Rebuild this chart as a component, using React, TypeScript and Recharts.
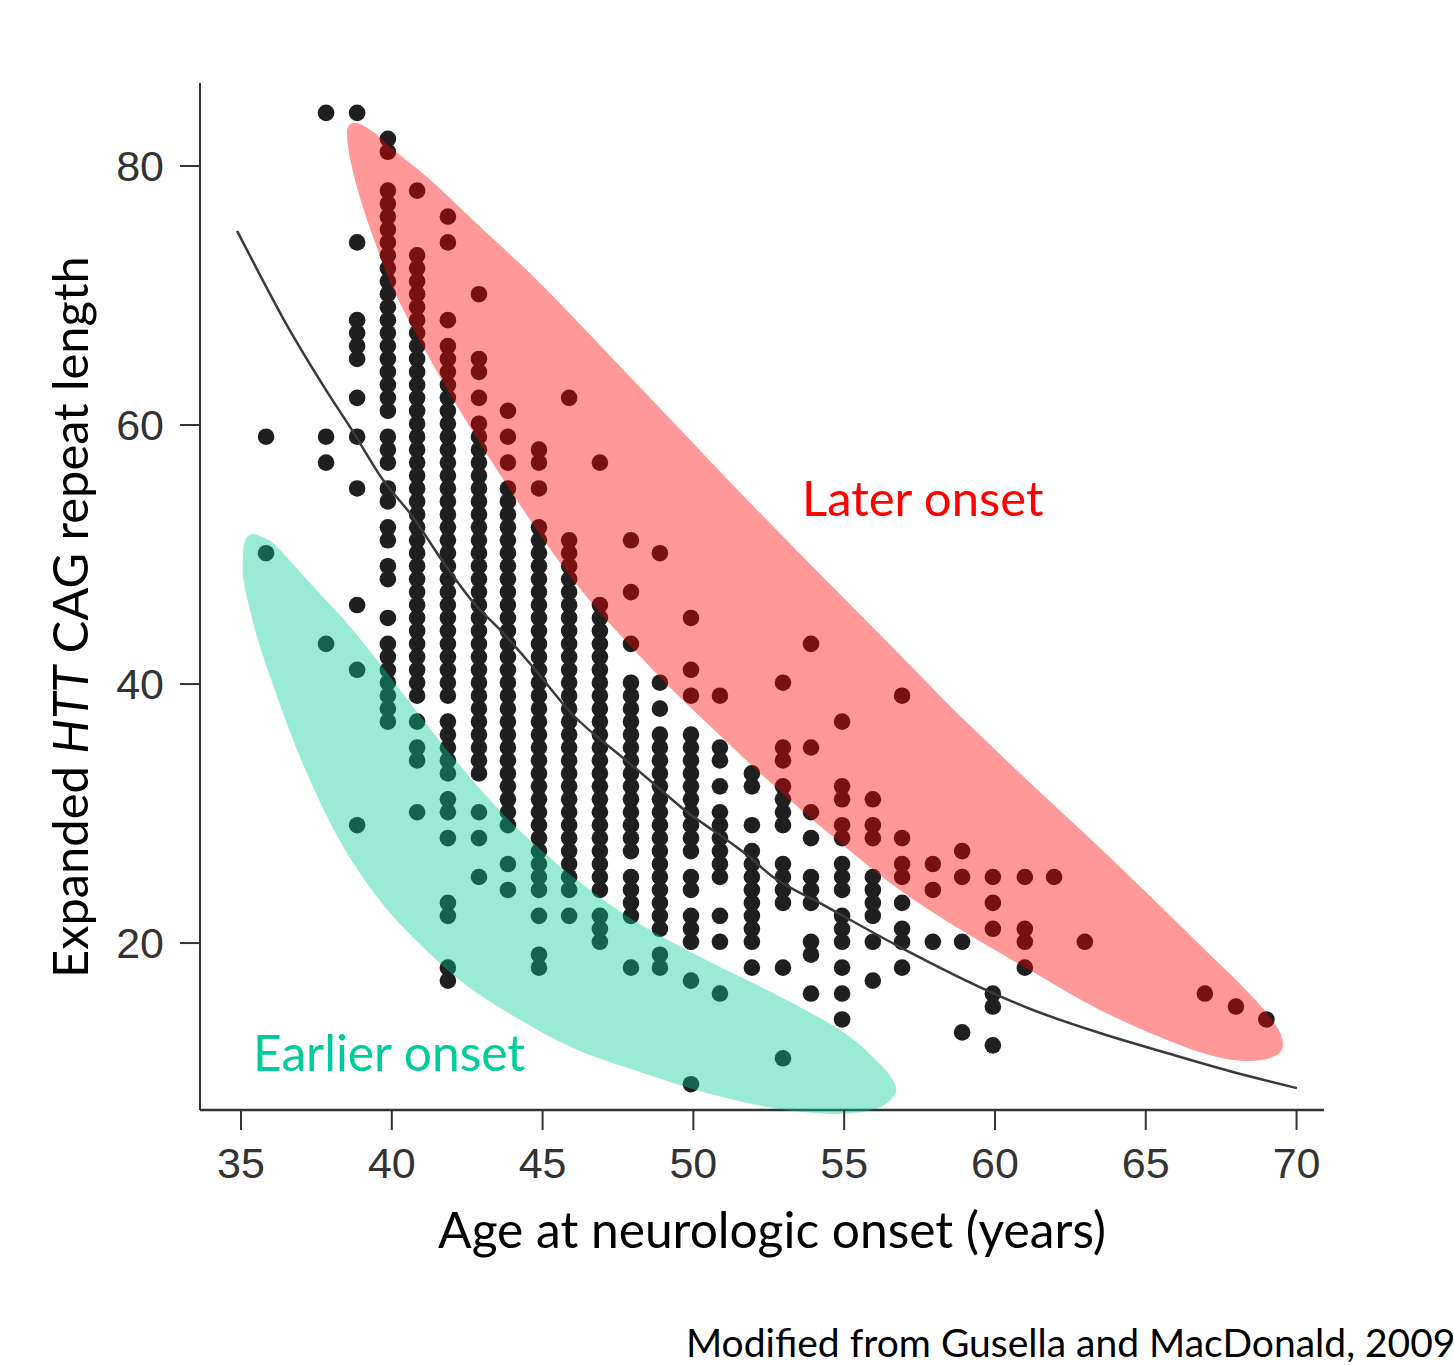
import { ScatterChart, Scatter, XAxis, YAxis, ReferenceLine } from "recharts";

const ageTicks = [35, 40, 45, 50, 55, 60, 65, 70];
const repeatTicks = [20, 40, 60, 80];

// age columns as they sit in the figure (slightly left of the ticks)
const onsetAges = [
  35.83, 37.82, 38.85, 39.87, 40.84, 41.86, 42.89, 43.85, 44.88, 45.88,
  46.9, 47.93, 48.89, 49.92, 50.88, 51.94, 52.97, 53.9, 54.93, 55.95,
  56.92, 57.94, 58.91, 59.93, 60.99, 61.96, 62.98, 66.96, 67.99, 69,
];

const repeatsByAge = [
  [59, 50],
  [84, 59, 57, 43],
  [84, 74, 68, 67, 66, 65, 62, 59, 55, 46, 41, 29],
  [82, 81, 78, 77, 76, 75, 74, 73, 72, 71, 70, 69, 68, 67, 66, 65, 64, 63, 62, 61, 59, 58, 57, 55, 54, 52, 51, 49, 48, 45, 43, 42, 41, 40, 39, 38, 37],
  [78, 73, 72, 71, 70, 69, 68, 67, 66, 65, 64, 63, 62, 61, 60, 59, 58, 57, 56, 55, 54, 53, 52, 51, 50, 49, 48, 47, 46, 45, 44, 43, 42, 41, 40, 39, 37, 35, 34, 30],
  [76, 74, 68, 66, 65, 64, 63, 62, 61, 60, 59, 58, 57, 56, 55, 54, 53, 52, 51, 50, 49, 48, 47, 46, 45, 44, 43, 42, 41, 40, 39, 37, 36, 35, 34, 33, 31, 30, 28, 23, 22, 18, 17],
  [70, 65, 64, 62, 60, 59, 58, 57, 56, 55, 54, 53, 52, 51, 50, 49, 48, 47, 46, 45, 44, 43, 42, 41, 40, 39, 38, 37, 36, 35, 34, 33, 30, 28, 25],
  [61, 59, 57, 55, 54, 53, 52, 51, 50, 49, 48, 47, 46, 45, 44, 43, 42, 41, 40, 39, 38, 37, 36, 35, 34, 33, 32, 31, 30, 29, 26, 24],
  [58, 57, 55, 52, 51, 50, 49, 48, 47, 46, 45, 44, 43, 42, 41, 40, 39, 38, 37, 36, 35, 34, 33, 32, 31, 30, 29, 28, 27, 26, 25, 24, 22, 19, 18],
  [62, 51, 50, 49, 48, 47, 46, 45, 44, 43, 42, 41, 40, 39, 38, 37, 36, 35, 34, 33, 32, 31, 30, 29, 28, 27, 26, 25, 24, 22],
  [57, 46, 45, 44, 43, 42, 41, 40, 39, 38, 37, 36, 35, 34, 33, 32, 31, 30, 29, 28, 27, 26, 25, 24, 22, 21, 20],
  [51, 47, 43, 40, 39, 38, 37, 36, 35, 34, 33, 32, 31, 30, 29, 28, 27, 25, 24, 23, 22, 18],
  [50, 40, 38, 36, 35, 34, 33, 32, 31, 30, 29, 28, 27, 26, 25, 24, 23, 22, 21, 19, 18],
  [45, 41, 39, 36, 35, 34, 33, 32, 31, 30, 29, 28, 27, 25, 24, 22, 21, 20, 17, 9],
  [39, 35, 34, 32, 30, 29, 28, 27, 26, 25, 22, 20, 16],
  [33, 32, 29, 27, 26, 25, 24, 23, 22, 21, 20, 18],
  [40, 35, 34, 32, 31, 30, 29, 26, 25, 24, 23, 18, 11],
  [43, 35, 30, 28, 25, 24, 23, 20, 19, 16],
  [37, 32, 31, 29, 28, 26, 25, 24, 22, 21, 20, 18, 16, 14],
  [31, 29, 28, 25, 24, 23, 22, 20, 17],
  [39, 28, 26, 25, 23, 21, 20, 18],
  [26, 24, 20],
  [27, 25, 20, 13],
  [25, 23, 21, 16, 15, 12],
  [25, 21, 20, 18],
  [25],
  [20],
  [16],
  [15],
  [14],
];

const fitAges = [34.87, 35.63, 36.39, 37.82, 38.68, 39.71, 40.7, 41.7, 42.69, 43.69, 44.68, 46.01, 47.67, 48.66, 49.79, 50.78, 51.78, 52.64, 54.2, 56.85, 59.93, 61.26, 63.48, 65.7, 67.89, 70.01];
const fitRepeats = [74.98, 71.58, 68.26, 62.7, 59.61, 55.75, 52.9, 49.42, 46.33, 43.94, 41.31, 37.61, 34.29, 32.36, 30.12, 28.49, 26.8, 25.1, 23.09, 19.69, 16.14, 14.83, 13.05, 11.51, 10.04, 8.8];

// outlines of the two highlighted groups, clockwise from the top
const laterAges = [38.71, 39.34, 39.94, 41.17, 42.69, 44.91, 48, 52.21, 56.92, 58.74, 61.49, 63.38, 65.14, 66.8, 68.45, 69.35, 69.55, 69.35, 68.55, 67.36, 65.7, 63.48, 61.26, 59.83, 58.18, 56.52, 54.76, 53.2, 51.11, 48.66, 46.01, 43.49, 41.66, 40.17, 39.38, 38.78, 38.51];
const laterRepeats = [83.32, 82.7, 81.47, 79.15, 75.83, 70.97, 63.48, 53.2, 42.08, 37.76, 31.66, 27.57, 23.63, 19.85, 16.06, 13.51, 12.12, 11.35, 10.89, 11.2, 12.51, 14.83, 17.76, 19.69, 22.01, 24.63, 27.95, 31.04, 35.52, 41.08, 48.03, 56.53, 63.48, 69.88, 74.52, 78.92, 82.55];

const earlierAges = [35.36, 35.7, 36.06, 36.69, 37.29, 38.51, 39.51, 40.94, 42.16, 43.59, 44.91, 46.14, 48, 50.55, 52.64, 54.86, 55.95, 56.72, 56.42, 55.76, 54.63, 52.64, 50.45, 48.23, 46.01, 43.82, 42.16, 40.27, 39.34, 38.45, 37.62, 36.86, 36.06, 35.56, 35.27, 35.07, 35.07, 35.13];
const earlierRepeats = [51.58, 51.35, 50.89, 49.34, 47.8, 44.71, 41.85, 37.53, 33.98, 30.19, 27.26, 24.86, 21.78, 18.53, 16.14, 13.28, 11.2, 8.88, 7.65, 7.03, 6.8, 7.26, 8.42, 10.04, 11.89, 14.67, 17.3, 21.47, 24.09, 27.18, 30.89, 34.9, 39.92, 43.4, 45.95, 48.26, 49.81, 51.04];

const toPoints = (xs: number[], ys: number[]) => xs.map((x, i) => ({ x, y: ys[i] }));

// the printed dots sit a touch above their integer rows
const ROW_SHIFT = 0.1;
const patients = onsetAges.flatMap((x, i) => repeatsByAge[i].map((y) => ({ x, y: y + ROW_SHIFT })));
const fitCurve = toPoints(fitAges, fitRepeats);
const laterOutline = toPoints(laterAges, laterRepeats);
const earlierOutline = toPoints(earlierAges, earlierRepeats);

const INK = "#1f1f1f";
const AXIS = "#333";
const TITLE_FONT = "Lato, 'Noto Sans', sans-serif";
const TICK_FONT = "'Liberation Sans', Arial, sans-serif";

const X_MIN = 33.64;
const X_MAX = 70.91;
const Y_FLOOR = 7.1; // x axis sits here; the green blob dips a little below it
const Y_MIN = 6.8;
const Y_MAX = 86.41;

const Dot = (props: any) => <circle cx={props.cx} cy={props.cy} r={8.3} fill={INK} />;
const NoDot = () => null;

// x axis line is drawn at Y_FLOOR, so the ticks are pulled up to meet it
const AgeTick = (props: any) => {
  const { x, y, payload } = props;
  return (
    <g>
      <line x1={x} x2={x} y1={y - 4} y2={y + 16} stroke={AXIS} strokeWidth={2} />
      <text x={x} y={y + 64} textAnchor="middle" fontSize={43} fontFamily={TICK_FONT} fill="#333">
        {payload.value}
      </text>
    </g>
  );
};

// closed smooth path through the outline points, which arrive already scaled
const blob = (fill: string) => (props: any) => {
  const pts = props.points;
  const n = pts.length;
  const tangent = (a: any, b: any) => {
    const len = Math.hypot(b.x - a.x, b.y - a.y) || 1;
    return { x: (b.x - a.x) / len, y: (b.y - a.y) / len };
  };
  let d = `M${pts[0].x},${pts[0].y}`;
  for (let i = 0; i < n; i++) {
    const p0 = pts[(i - 1 + n) % n];
    const p1 = pts[i];
    const p2 = pts[(i + 1) % n];
    const p3 = pts[(i + 2) % n];
    const seg = Math.hypot(p2.x - p1.x, p2.y - p1.y) / 3;
    const t1 = tangent(p0, p2);
    const t2 = tangent(p1, p3);
    d += `C${p1.x + t1.x * seg},${p1.y + t1.y * seg},${p2.x - t2.x * seg},${p2.y - t2.y * seg},${p2.x},${p2.y}`;
  }
  return <path d={d + "Z"} fill={fill} fillOpacity={0.4} stroke="none" />;
};

export default function App() {
  return (
    <div style={{ position: "absolute", left: 0, top: 0, width: 1454, height: 1365, background: "#fff", overflow: "hidden" }}>
      <ScatterChart width={1454} height={1365} margin={{ top: 83, right: 130, bottom: 191, left: 0 }}>
        <XAxis
          type="number"
          dataKey="x"
          domain={[X_MIN, X_MAX]}
          ticks={ageTicks}
          height={60}
          tickSize={0}
          tickMargin={0}
          tickLine={false}
          axisLine={false}
          interval={0}
          tick={<AgeTick />}
        />
        <YAxis
          type="number"
          dataKey="y"
          domain={[Y_MIN, Y_MAX]}
          ticks={repeatTicks}
          width={200}
          tickSize={20}
          tickMargin={16}
          axisLine={false}
          interval={0}
          stroke={AXIS}
          strokeWidth={2}
          tick={{ fill: "#333", fontSize: 43, fontFamily: TICK_FONT }}
        />
        <ReferenceLine y={Y_FLOOR} stroke={AXIS} strokeWidth={2.5} />
        <ReferenceLine
          segment={[{ x: X_MIN, y: Y_FLOOR }, { x: X_MIN, y: Y_MAX }]}
          stroke={AXIS}
          strokeWidth={2}
        />
        <Scatter data={patients} shape={Dot} isAnimationActive={false} />
        <Scatter
          data={fitCurve}
          shape={NoDot}
          line={{ stroke: "#3a3a3a", strokeWidth: 2.5 }}
          lineJointType="monotoneX"
          isAnimationActive={false}
        />
        <Scatter data={laterOutline} shape={NoDot} line={blob("#ff0000")} isAnimationActive={false} />
        <Scatter data={earlierOutline} shape={NoDot} line={blob("#00cc99")} isAnimationActive={false} />
        <text x={802} y={516} fontSize={49} fontFamily={TITLE_FONT} fill="#ff0000">Later onset</text>
        <text x={253} y={1071} fontSize={49.7} fontFamily={TITLE_FONT} fill="#00cc99">Earlier onset</text>
        <text x={438} y={1248} fontSize={49.7} fontFamily={TITLE_FONT} fill="#000">Age at neurologic onset (years)</text>
        <text transform="translate(88,978) rotate(-90)" fontSize={48.8} fontFamily={TITLE_FONT} fill="#000">
          Expanded <tspan fontStyle="italic">HTT</tspan> CAG repeat length
        </text>
        <text x={686} y={1357} fontSize={39} fontFamily={TITLE_FONT} fill="#000">Modified from Gusella and MacDonald, 2009</text>
      </ScatterChart>
    </div>
  );
}
